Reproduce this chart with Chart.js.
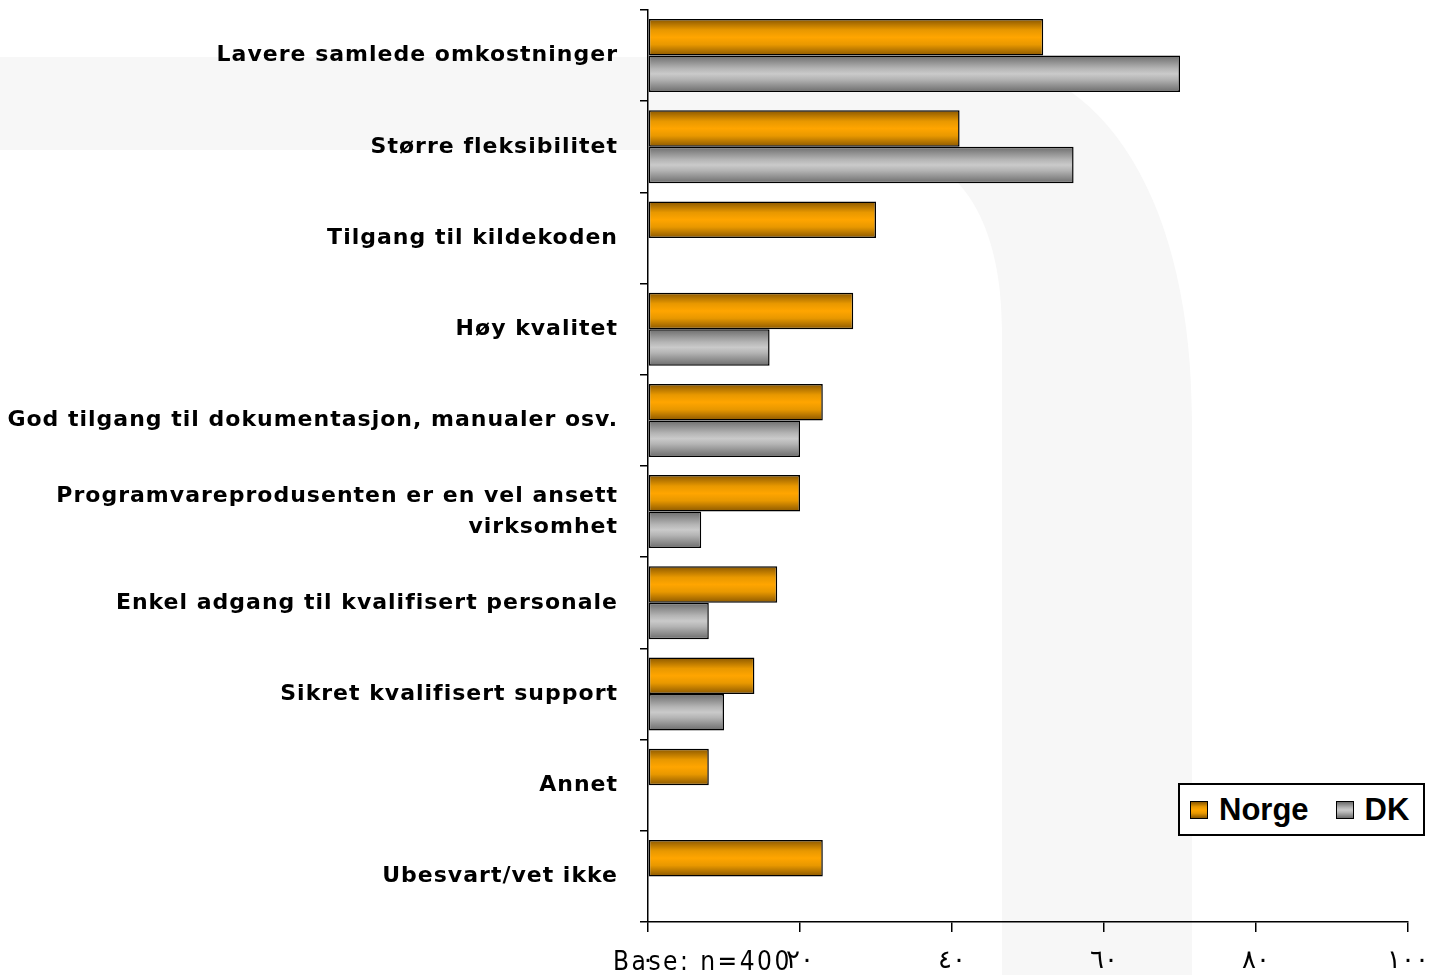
<!DOCTYPE html>
<html>
<head>
<meta charset="utf-8">
<script src="https://cdn.jsdelivr.net/npm/chart.js@4.4.0/dist/chart.umd.min.js"></script>
<style>
  body { margin: 0; background: #fff; }
  #wrap { position: relative; width: 1433px; height: 975px; }
  #legend {
    position: absolute; left: 1178px; top: 783px; width: 243px; height: 49px;
    border: 2px solid #000; background: #fff; display: flex; align-items: center;
    font: bold 31px "Liberation Sans", Arial, sans-serif; color: #000;
  }
  #legend .item { display: flex; align-items: center; }
  #legend .box { width: 16px; height: 16px; border: 1.5px solid #000; margin-left: 10px; margin-right: 11px; }
  #legend .item + .item .box { margin-left: 27px; }
</style>
</head>
<body>
<div id="wrap">
  <canvas id="chart"></canvas>
  <div id="legend"></div>
</div>
<script>
const categories = [
  'Lavere samlede omkostninger',
  'Større fleksibilitet',
  'Tilgang til kildekoden',
  'Høy kvalitet',
  'God tilgang til dokumentasjon, manualer osv.',
  ['Programvareprodusenten er en vel ansett', 'virksomhet'],
  'Enkel adgang til kvalifisert personale',
  'Sikret kvalifisert support',
  'Annet',
  'Ubesvart/vet ikke'
];
const norgeValues = [52, 41, 30, 27, 23, 20, 17, 14, 8, 23];
const dkValues = [70, 56, null, 16, 20, 7, 8, 10, null, null];
const xTickLabels = ['٠', '٢٠', '٤٠', '٦٠', '٨٠', '١٠٠'];
const baseNote = 'Base: n=400';

const orangeStops = [[0, '#8a5700'], [0.3, '#e89800'], [0.5, '#ffa500'], [0.7, '#e89800'], [1, '#8a5700']];
const greyStops = [[0, '#6c6c6c'], [0.35, '#b4b4b4'], [0.5, '#cacaca'], [0.65, '#b4b4b4'], [1, '#6c6c6c']];

// vertical shading across each bar, uses the bar element's own position
function barFill(stops) {
  return function(c) {
    const el = c.element;
    if (!el || el.height == null || isNaN(el.y)) return stops[2][1];
    const g = c.chart.ctx.createLinearGradient(0, el.y - el.height / 2, 0, el.y + el.height / 2);
    stops.forEach(s => g.addColorStop(s[0], s[1]));
    return g;
  };
}

function cssGradient(stops) {
  return 'linear-gradient(to bottom, ' + stops.map(s => s[1] + ' ' + (s[0] * 100) + '%').join(', ') + ')';
}

const backdrop = {
  id: 'backdrop',
  beforeDraw(chart) {
    const ctx = chart.ctx;
    ctx.save();
    ctx.fillStyle = '#fff';
    ctx.fillRect(0, 0, chart.width, chart.height);
    ctx.fillStyle = '#f7f7f7';
    ctx.beginPath();
    ctx.moveTo(0, 57);
    ctx.lineTo(960, 57);
    ctx.bezierCurveTo(1110, 57, 1192, 210, 1192, 420);
    ctx.lineTo(1192, chart.height);
    ctx.lineTo(1002, chart.height);
    ctx.lineTo(1002, 330);
    ctx.bezierCurveTo(1002, 230, 965, 150, 880, 150);
    ctx.lineTo(0, 150);
    ctx.closePath();
    ctx.fill();
    ctx.restore();
    ctx.letterSpacing = '1px';
  },
  afterDraw(chart) {
    const ctx = chart.ctx;
    ctx.save();
    ctx.letterSpacing = '2.5px';
    ctx.font = '26px "DejaVu Sans Condensed", "DejaVu Sans", sans-serif';
    ctx.fillStyle = '#000';
    ctx.textBaseline = 'alphabetic';
    ctx.fillText(baseNote, 613, 970);
    ctx.restore();
    ctx.letterSpacing = '0px';
  }
};

const chart = new Chart(document.getElementById('chart'), {
  type: 'bar',
  data: {
    labels: categories,
    datasets: [
      { label: 'Norge', data: norgeValues, backgroundColor: barFill(orangeStops), swatch: orangeStops },
      { label: 'DK', data: dkValues, backgroundColor: barFill(greyStops), swatch: greyStops }
    ]
  },
  options: {
    indexAxis: 'y',
    responsive: true,
    maintainAspectRatio: false,
    animation: false,
    layout: { padding: { top: 10, right: 25, left: 0, bottom: 0 } },
    datasets: {
      bar: {
        categoryPercentage: 0.8,
        barPercentage: 1.0,
        borderColor: '#000',
        borderWidth: 1.5,
        borderSkipped: false
      }
    },
    plugins: {
      legend: { display: false },
      tooltip: { enabled: false }
    },
    scales: {
      x: {
        min: 0,
        max: 100,
        ticks: {
          stepSize: 20,
          padding: 14,
          color: '#000',
          font: { family: '"DejaVu Sans", sans-serif', size: 26 },
          maxRotation: 0,
          callback: (v, i) => xTickLabels[i]
        },
        grid: { drawOnChartArea: false, tickLength: 10, color: '#000', lineWidth: 1.5 },
        border: { color: '#000', width: 1.5 },
        afterFit: s => { s.height = 53; s.paddingLeft = 0; s.paddingRight = 0; }
      },
      y: {
        ticks: {
          autoSkip: false,
          padding: 22,
          color: '#000',
          font: { family: '"DejaVu Sans", sans-serif', size: 22, weight: 'bold', lineHeight: 1.4 }
        },
        grid: { drawOnChartArea: false, offset: true, tickLength: 8, color: '#000', lineWidth: 1.5 },
        border: { color: '#000', width: 1.5 },
        afterFit: s => { s.width = 648; s.paddingTop = 0; s.paddingBottom = 0; }
      }
    }
  },
  plugins: [backdrop]
});

// second pass so the gradients can use the laid-out bar positions
chart.update('none');

const legend = document.getElementById('legend');
chart.data.datasets.forEach(ds => {
  const item = document.createElement('div');
  item.className = 'item';
  const box = document.createElement('span');
  box.className = 'box';
  box.style.background = cssGradient(ds.swatch);
  const txt = document.createElement('span');
  txt.textContent = ds.label;
  item.appendChild(box);
  item.appendChild(txt);
  legend.appendChild(item);
});
</script>
</body>
</html>
